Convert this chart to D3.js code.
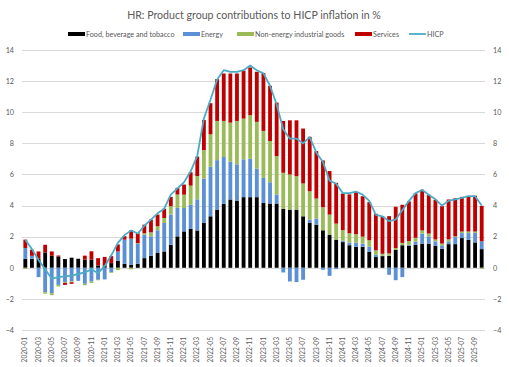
<!DOCTYPE html>
<html>
<head>
<meta charset="utf-8">
<script src="https://cdn.jsdelivr.net/npm/d3@7"></script>
<style>
html,body{margin:0;padding:0;background:#fff;}
svg{display:block;font-family:Lato,"Liberation Sans",sans-serif;}
</style>
</head>
<body>
<svg id="chart" width="509" height="367"></svg>
<script>
// ---- data ----
const months = [];
for (let yr = 2020; yr <= 2025; yr++) for (let m = 1; m <= 12; m++) {
  if (yr === 2025 && m > 10) break;
  months.push(yr + "-" + String(m).padStart(2, "0"));
}
const food = [0.58,0.58,0.58,0.99,0.77,0.73,0.56,0.65,0.58,0.52,0.52,0.15,
  0.15,0.3,0.45,0.26,0.19,0.26,0.62,0.77,0.95,1.05,1.48,2.02,
  2.34,2.5,2.4,2.88,3.31,3.74,4.11,4.39,4.32,4.54,4.54,4.54,
  4.17,4.13,4.13,3.78,3.74,3.74,3.31,2.88,2.77,2.41,2.13,1.81,
  1.65,1.45,1.35,1.35,1.02,0.69,0.75,0.77,1.15,1.45,1.42,1.48,
  1.55,1.55,1.42,1.22,1.52,1.52,1.91,1.8,1.63,1.2];
const energy = [0.69,0.19,-0.6,-1.57,-1.63,-1.1,-0.92,-0.88,-0.84,-1.03,-0.88,-0.77,
  -0.75,-0.28,0.6,1.55,1.68,1.29,1.5,1.25,1.46,1.83,1.94,1.83,
  1.5,1.55,2.0,2.86,3.18,3.18,3.01,2.43,2.33,2.43,2.47,1.83,
  1.61,1.37,0.58,-0.3,-0.88,-0.92,-0.77,0.21,0.39,-0.13,-0.52,-0.09,
  0.1,0.17,0.26,0.2,0.33,0.15,0.03,-0.45,-0.8,-0.6,0.05,0.2,
  0.65,0.47,0.28,0.22,0.18,0.45,0.32,0.43,0.62,0.5];
const neig = [-0.08,0.0,0.0,-0.1,-0.13,-0.1,-0.05,-0.05,0.0,-0.09,-0.1,-0.03,
  0.0,-0.05,-0.15,0.0,-0.1,0.03,0.1,0.26,0.26,0.32,0.54,0.86,
  0.86,1.23,1.5,1.83,2.09,2.52,2.32,2.51,2.79,2.62,2.8,3.01,
  3.02,2.65,2.47,2.33,2.26,2.15,2.11,1.83,1.29,1.48,1.29,1.03,
  0.67,0.6,0.55,0.45,0.42,0.28,0.12,0.15,0.12,0.15,0.25,0.25,
  0.2,0.18,0.12,0.12,0.13,0.05,0.1,0.1,0.08,-0.06];
const services = [0.54,0.39,0.47,0.49,0.28,0.06,-0.13,-0.1,0.0,0.26,0.54,0.47,
  0.55,0.45,0.45,0.22,0.54,0.65,0.55,0.82,0.75,0.6,0.6,0.43,
  0.65,0.86,1.25,1.93,2.0,2.69,3.05,3.16,3.05,3.08,3.07,3.22,
  3.72,3.55,3.44,3.33,3.48,3.59,3.53,3.5,3.05,3.01,2.8,2.62,
  2.35,2.5,2.7,2.6,2.45,2.35,2.4,2.4,2.65,2.45,2.55,2.85,
  2.62,2.47,2.55,2.4,2.56,2.45,2.23,2.25,2.3,2.28];
const hicp = [1.8,1.2,0.5,-0.1,-0.7,-0.6,-0.55,-0.5,-0.4,-0.3,-0.1,-0.35,
  0.1,0.8,1.6,2.1,2.4,2.2,2.7,3.1,3.5,3.8,4.7,5.1,
  5.5,6.2,7.2,9.6,10.8,12.1,12.7,12.6,12.6,12.7,13.0,12.7,
  12.5,11.7,10.5,8.9,8.3,8.3,8.0,8.4,7.4,6.8,5.6,5.4,
  4.8,4.8,4.9,4.7,4.3,3.4,3.3,3.0,3.1,3.7,4.3,4.8,
  5.0,4.7,4.4,4.0,4.3,4.4,4.5,4.6,4.6,4.0];
const yTicks = [-4,-2,0,2,4,6,8,10,12,14];
const seriesNames = ["Food, beverage and tobacco","Energy","Non-energy industrial goods","Services"];
const seriesColors = ["#000000","#5b8fd6","#9bbb59","#c00000"];
const lineName = "HICP";
const lineColor = "#4bacc6";

// ---- chart ----
(function () {
const svg = d3.select("#chart");
const pL = 22, pR = 485, pT = 50, pB = 330;
const x = d3.scaleBand().domain(months).range([pL, pR]).paddingInner(0.42).paddingOuter(0.21);
const xc = d => x(d) + x.bandwidth() / 2;
const y = d3.scaleLinear().domain([-4, 14]).range([pB, pT]);
const grey = "#595959";

svg.append("text").attr("x", 254).attr("y", 19).attr("text-anchor", "middle")
  .attr("font-size", 10.6).attr("fill", grey)
  .text("HR: Product group contributions to HICP inflation in %");

svg.append("g").selectAll("line").data(yTicks).join("line")
  .attr("x1", pL).attr("x2", pR)
  .attr("y1", d => Math.round(y(d)) + 0.5).attr("y2", d => Math.round(y(d)) + 0.5)
  .attr("stroke", "#d9d9d9").attr("stroke-width", 1);

const gL = svg.append("g").attr("transform", "translate(14,0)")
  .call(d3.axisLeft(y).tickValues(yTicks).tickSize(0).tickPadding(0));
const gR = svg.append("g").attr("transform", "translate(493,0)")
  .call(d3.axisRight(y).tickValues(yTicks).tickSize(0).tickPadding(0));
[gL, gR].forEach(g => {
  g.select(".domain").remove();
  g.selectAll("text").attr("font-size", 7.2).attr("fill", grey).attr("font-family", "Lato,sans-serif");
});

const rows = months.map((m, i) => ({m, s0: food[i], s1: energy[i], s2: neig[i], s3: services[i]}));
const stacked = d3.stack().keys(["s0","s1","s2","s3"]).offset(d3.stackOffsetDiverging)(rows);
svg.append("g").selectAll("g").data(stacked).join("g")
  .attr("fill", (d, i) => seriesColors[i])
  .selectAll("rect").data(d => d).join("rect")
  .attr("x", d => x(d.data.m))
  .attr("width", x.bandwidth())
  .attr("y", d => y(Math.max(d[0], d[1])))
  .attr("height", d => Math.abs(y(d[0]) - y(d[1])));

svg.append("path").datum(hicp)
  .attr("fill", "none").attr("stroke", lineColor).attr("stroke-width", 1.8)
  .attr("stroke-linejoin", "round")
  .attr("d", d3.line().x((d, i) => xc(months[i])).y(d => y(d)));

const gx = svg.append("g").attr("transform", "translate(0,337)")
  .call(d3.axisBottom(x).tickValues(months.filter((m, i) => i % 2 === 0)).tickSize(0).tickPadding(0));
gx.select(".domain").remove();
gx.selectAll("text")
  .attr("font-size", 6.6).attr("fill", grey).attr("font-family", "Lato,sans-serif")
  .attr("transform", "rotate(-90)")
  .attr("text-anchor", "end")
  .attr("x", 0).attr("y", 0).attr("dy", "0.33em");

const legendItems = [
  {name: seriesNames[0], color: seriesColors[0], sx: 68, type: "bar"},
  {name: seriesNames[1], color: seriesColors[1], sx: 183, type: "bar"},
  {name: seriesNames[2], color: seriesColors[2], sx: 237, type: "bar"},
  {name: seriesNames[3], color: seriesColors[3], sx: 355, type: "bar"},
  {name: lineName, color: lineColor, sx: 409, type: "line"}
];
const lg = svg.append("g");
legendItems.forEach(it => {
  if (it.type === "bar") {
    lg.append("rect").attr("x", it.sx).attr("y", 32).attr("width", 17).attr("height", 4).attr("fill", it.color);
  } else {
    lg.append("line").attr("x1", it.sx).attr("x2", it.sx + 17).attr("y1", 34).attr("y2", 34)
      .attr("stroke", it.color).attr("stroke-width", 1.8);
  }
  lg.append("text").attr("x", it.sx + 18).attr("y", 36.5).attr("font-size", 7.2).attr("fill", grey).text(it.name);
});
})();
</script>
</body>
</html>
